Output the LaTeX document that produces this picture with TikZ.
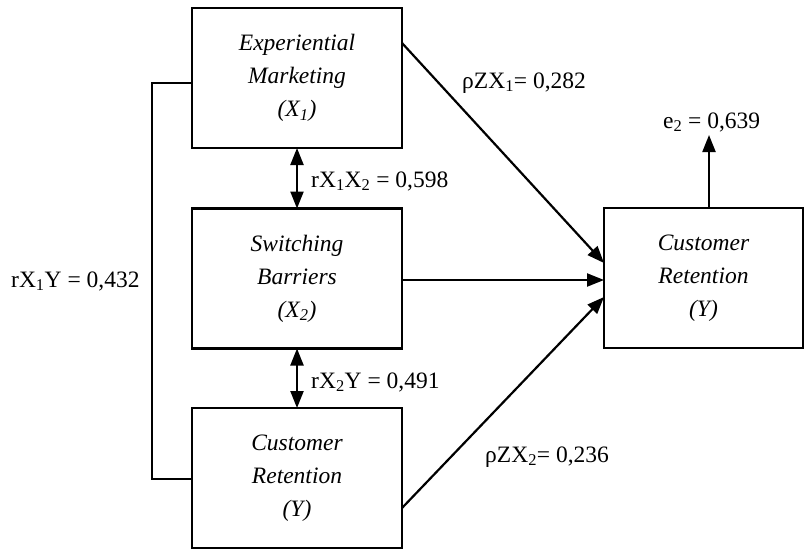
\documentclass[tikz,border=0pt]{standalone}
\usepackage{fontspec}
\setmainfont{Liberation Serif}
\usetikzlibrary{arrows.meta}
\begin{document}
\begin{tikzpicture}[x=1pt,y=-1pt,
 box/.style={draw, line width=2.2pt, inner sep=0pt, outer sep=0pt, minimum width=210pt, minimum height=140pt, align=center, font=\fontsize{23.5}{33}\selectfont\itshape},
 lbl/.style={font=\fontsize{23.5}{27}\selectfont, inner sep=0pt},
 conn/.style={line width=2.2pt},
 arr/.style={conn, -{Triangle[length=17pt,width=13pt]}},
 darr/.style={conn, {Triangle[length=17pt,width=13pt]}-{Triangle[length=17pt,width=13pt]}}]
\useasboundingbox (0,0) rectangle (805,551);
\node[box] (b1) at (297,78) {Experiential\\Marketing\\(X\textsubscript{1})};
\node[box] (b2) at (297,278.5) {Switching\\Barriers\\(X\textsubscript{2})};
\node[box] (b3) at (297,478) {Customer\\Retention\\(Y)};
\node[box, minimum width=199pt] (r) at (703.5,278) {Customer\\Retention\\(Y)};
% coordinates
\coordinate (a1s) at (402,43);
\coordinate (a1e) at (604,263);
\coordinate (a2s) at (402,280);
\coordinate (a2e) at (604,280);
\coordinate (a3s) at (402,508);
\coordinate (a3e) at (604,297);
\coordinate (eTop) at (709,135);
\coordinate (btA) at (192,83);
\coordinate (btB) at (152,479);
\coordinate (btC) at (192,479);
% connectors
\draw[arr] (a1s) -- (a1e);
\draw[arr] (a2s) -- (a2e);
\draw[arr] (a3s) -- (a3e);
\draw[arr] (r.north -| eTop) -- (eTop);
\draw[darr] (b1.south) -- (b2.north);
\draw[darr] (b2.south) -- (b3.north);
\draw[conn] (btA) -| (btB) -- (btC);
% labels
\node[lbl, anchor=base west] (l1) at (311,187) {rX\textsubscript{1}X\textsubscript{2} = 0,598};
\node[lbl, anchor=base west] (l2) at (311,388) {rX\textsubscript{2}Y = 0,491};
\node[lbl, anchor=base west] (l3) at (11,287) {rX\textsubscript{1}Y = 0,432};
\node[lbl, anchor=base west] (l4) at (462,88) {ρZX\textsubscript{1}= 0,282};
\node[lbl, anchor=base west] (l5) at (485,462) {ρZX\textsubscript{2}= 0,236};
\node[lbl, anchor=base west] (l6) at (663,128) {e\textsubscript{2} = 0,639};
\end{tikzpicture}
\end{document}
